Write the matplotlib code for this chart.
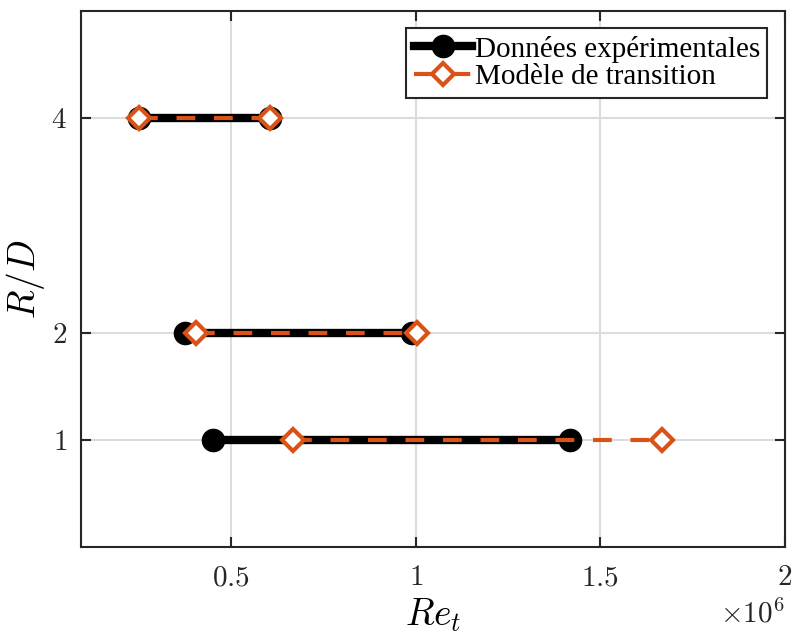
import matplotlib.pyplot as plt
import numpy as np

plt.rcParams['mathtext.fontset'] = 'cm'
plt.rcParams['font.family'] = ['Liberation Serif', 'DejaVu Serif']

# R/D levels
rd = [4, 2, 1]
# experimental transition range (start, end) in Re_t / 1e6
exp_start = [0.250, 0.375, 0.451]
exp_end = [0.606, 0.989, 1.418]
# transition model range
mod_start = [0.250, 0.405, 0.668]
mod_end = [0.606, 1.003, 1.668]

black = '#000000'
orange = '#D95319'

fig = plt.figure(figsize=(7.92, 6.34), dpi=100)
ax = fig.add_axes([0.102, 0.137, 0.889, 0.846])

for i, r in enumerate(rd):
    ax.plot([exp_start[i], exp_end[i]], [r, r], '-o', color=black, lw=6,
            markersize=16, label='Donn\u00e9es exp\u00e9rimentales' if i == 0 else None)
for i, r in enumerate(rd):
    ax.plot([mod_start[i], mod_end[i]], [r, r], '--D', color=orange, lw=3,
            dashes=(4.5, 4.5), markersize=11.5, markerfacecolor='white',
            markeredgewidth=3,
            label='Mod\u00e8le de transition' if i == 0 else None)

ax.set_xlim(0.092, 2.0)
ax.set_ylim(0, 5)
ax.set_xticks([0.5, 1, 1.5, 2])
ax.set_xticklabels(['$0.5$', '$1$', '$1.5$', '$2$'])
ax.set_yticks([1, 2, 4])
ax.set_yticklabels(['$1$', '$2$', '$4$'])
ax.tick_params(direction='in', length=7, width=1.5, labelsize=21, pad=10,
               top=True, right=True, colors='#262626')
ax.tick_params(axis='x', pad=13)
ax.grid(True, color='#dcdcdc', lw=1.5)
ax.set_axisbelow(True)
for s in ax.spines.values():
    s.set_linewidth(1.5)
    s.set_color('#262626')

ax.set_xlabel('$Re_t$', fontsize=27, labelpad=4)
ax.set_ylabel('$R/D$', fontsize=27, labelpad=3)
ax.text(1.0, -0.097, r'$\times10^6$', transform=ax.transAxes, ha='right',
        va='top', fontsize=21, color='#262626')

leg = ax.legend(loc='upper right', fontsize=21, handlelength=2.0,
                handletextpad=0.1, borderpad=0.25, labelspacing=0.05,
                fancybox=False, framealpha=1, borderaxespad=0.6)
leg.get_frame().set_edgecolor('#262626')
leg.get_frame().set_linewidth(1.5)

fig.savefig('out.png')
